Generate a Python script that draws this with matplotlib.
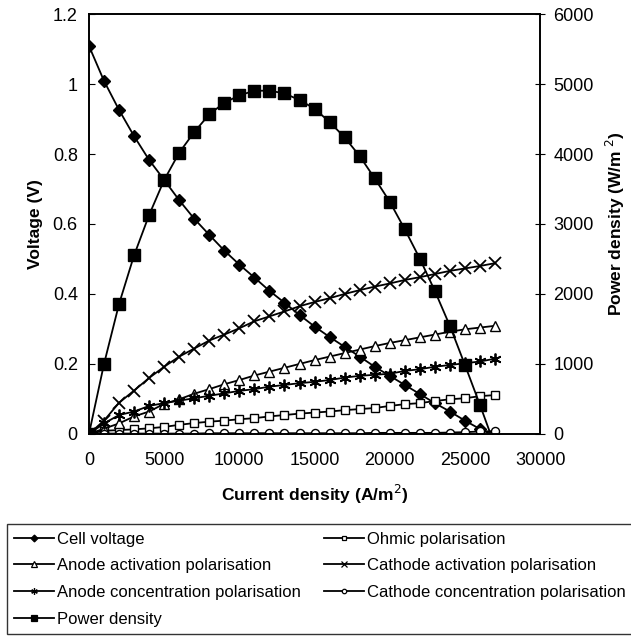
import numpy as np
import matplotlib.pyplot as plt

plt.rcParams['font.family'] = ['Liberation Sans', 'DejaVu Sans']

current = np.arange(0, 28000, 1000)

cell_voltage = [1.109, 1.009, 0.926, 0.851, 0.783, 0.726, 0.668, 0.615, 0.569, 0.524,
                0.484, 0.447, 0.409, 0.375, 0.340, 0.307, 0.277, 0.249, 0.221, 0.192,
                0.166, 0.140, 0.114, 0.088, 0.064, 0.038, 0.014]
ohmic = [0.0, 0.009, 0.011, 0.013, 0.016, 0.020, 0.026, 0.031, 0.035, 0.038,
         0.042, 0.045, 0.050, 0.054, 0.058, 0.061, 0.064, 0.068, 0.071, 0.074,
         0.080, 0.085, 0.088, 0.094, 0.099, 0.102, 0.108, 0.111]
anode_act = [0.0, 0.015, 0.030, 0.050, 0.064, 0.086, 0.099, 0.115, 0.128, 0.142,
             0.154, 0.167, 0.178, 0.189, 0.200, 0.211, 0.221, 0.231, 0.241, 0.251,
             0.260, 0.268, 0.276, 0.284, 0.292, 0.299, 0.304, 0.309]
cathode_act = [0.0, 0.038, 0.089, 0.124, 0.160, 0.192, 0.221, 0.244, 0.267, 0.284,
               0.302, 0.322, 0.336, 0.350, 0.365, 0.377, 0.388, 0.400, 0.411, 0.421,
               0.430, 0.440, 0.448, 0.457, 0.466, 0.473, 0.480, 0.488]
anode_conc = [0.0, 0.030, 0.054, 0.064, 0.080, 0.088, 0.095, 0.102, 0.109, 0.116,
              0.123, 0.128, 0.135, 0.140, 0.145, 0.149, 0.154, 0.161, 0.166, 0.169,
              0.172, 0.180, 0.185, 0.192, 0.197, 0.202, 0.207, 0.215]
cathode_conc = [0.0, 0.001, 0.001, 0.001, 0.001, 0.001, 0.001, 0.001, 0.002, 0.002,
                0.002, 0.002, 0.002, 0.002, 0.002, 0.002, 0.002, 0.002, 0.002, 0.003,
                0.003, 0.003, 0.003, 0.003, 0.004, 0.005, 0.007, 0.008]
power = [0, 1000, 1857, 2553, 3129, 3629, 4019, 4314, 4567, 4733,
         4838, 4905, 4905, 4867, 4771, 4648, 4457, 4238, 3971, 3652,
         3319, 2924, 2505, 2043, 1543, 986, 414]

# voltage and power both reach zero at about 26700 A/m2 (line end, no marker)
i_end = 26700

fig = plt.figure(figsize=(6.31, 6.4), dpi=100)
ax = fig.add_axes([0.141, 0.322, 0.715, 0.656])
ax2 = ax.twinx()

lw = 1.3
n = len(cell_voltage)
xv = list(current[:n]) + [i_end]

h_cell, = ax.plot(xv, cell_voltage + [0.0], color='k', lw=lw, marker='D', ms=6.3,
                  markevery=list(range(n)), mfc='k', label='Cell voltage')
h_ohm, = ax.plot(current, ohmic, color='k', lw=lw, marker='s', ms=5.8, mfc='white',
                 mew=1.0, label='Ohmic polarisation')
h_aa, = ax.plot(current, anode_act, color='k', lw=lw, marker='^', ms=7, mfc='white',
                mew=1.0, label='Anode activation polarisation')
h_ca, = ax.plot(current, cathode_act, color='k', lw=lw, marker='x', ms=8, mew=1.3,
                label='Cathode activation polarisation')
h_ac, = ax.plot(current, anode_conc, color='k', lw=lw, marker=(6, 2, 0), ms=8.5, mew=1.3,
                label='Anode concentration polarisation')
h_cc, = ax.plot(current, cathode_conc, color='k', lw=lw, marker='o', ms=5.8, mfc='white',
                mew=1.0, label='Cathode concentration polarisation')
h_pow, = ax2.plot(xv, power + [0], color='k', lw=lw, marker='s', ms=8.5,
                  markevery=list(range(n)), mfc='k', label='Power density')

ax.set_xlim(0, 30000)
ax.set_ylim(0, 1.2)
ax2.set_ylim(0, 6000)
ax.set_xticks(np.arange(0, 30001, 5000))
ax.set_yticks(np.arange(0, 1.21, 0.2))
ax.set_yticklabels(['0', '0.2', '0.4', '0.6', '0.8', '1', '1.2'])
ax2.set_yticks(np.arange(0, 6001, 1000))

ax.tick_params(axis='x', length=0, labelsize=13, pad=13)
ax.tick_params(axis='y', direction='in', length=4, labelsize=13, pad=8)
ax2.tick_params(axis='y', direction='inout', length=7, labelsize=13, pad=6)
for a in (ax, ax2):
    for s in a.spines.values():
        s.set_linewidth(1.2)

ax.set_xlabel('Current density (A/m$^2$)', fontsize=12.5, fontweight='bold', labelpad=10)
ax.set_ylabel('Voltage (V)', fontsize=12.5, fontweight='bold', labelpad=7)
ax2.set_ylabel('Power density (W/m$^{\\ 2}$)', fontsize=12.5, fontweight='bold', labelpad=7)

handles = [h_cell, h_aa, h_ac, h_pow, h_ohm, h_ca, h_cc]
leg = fig.legend(handles=handles, loc='upper left', ncol=2,
                 bbox_to_anchor=(0.011, 0.181), fontsize=12.0,
                 frameon=True, fancybox=False, edgecolor='k', handlelength=2.4,
                 handletextpad=0.15, borderaxespad=0, labelspacing=0.7,
                 columnspacing=1.4, markerscale=0.55, borderpad=0.45)
leg.get_frame().set_linewidth(1.0)
for line in leg.get_lines():
    line.set_markeredgewidth(0.9)

fig.savefig('out.png', dpi=100)
